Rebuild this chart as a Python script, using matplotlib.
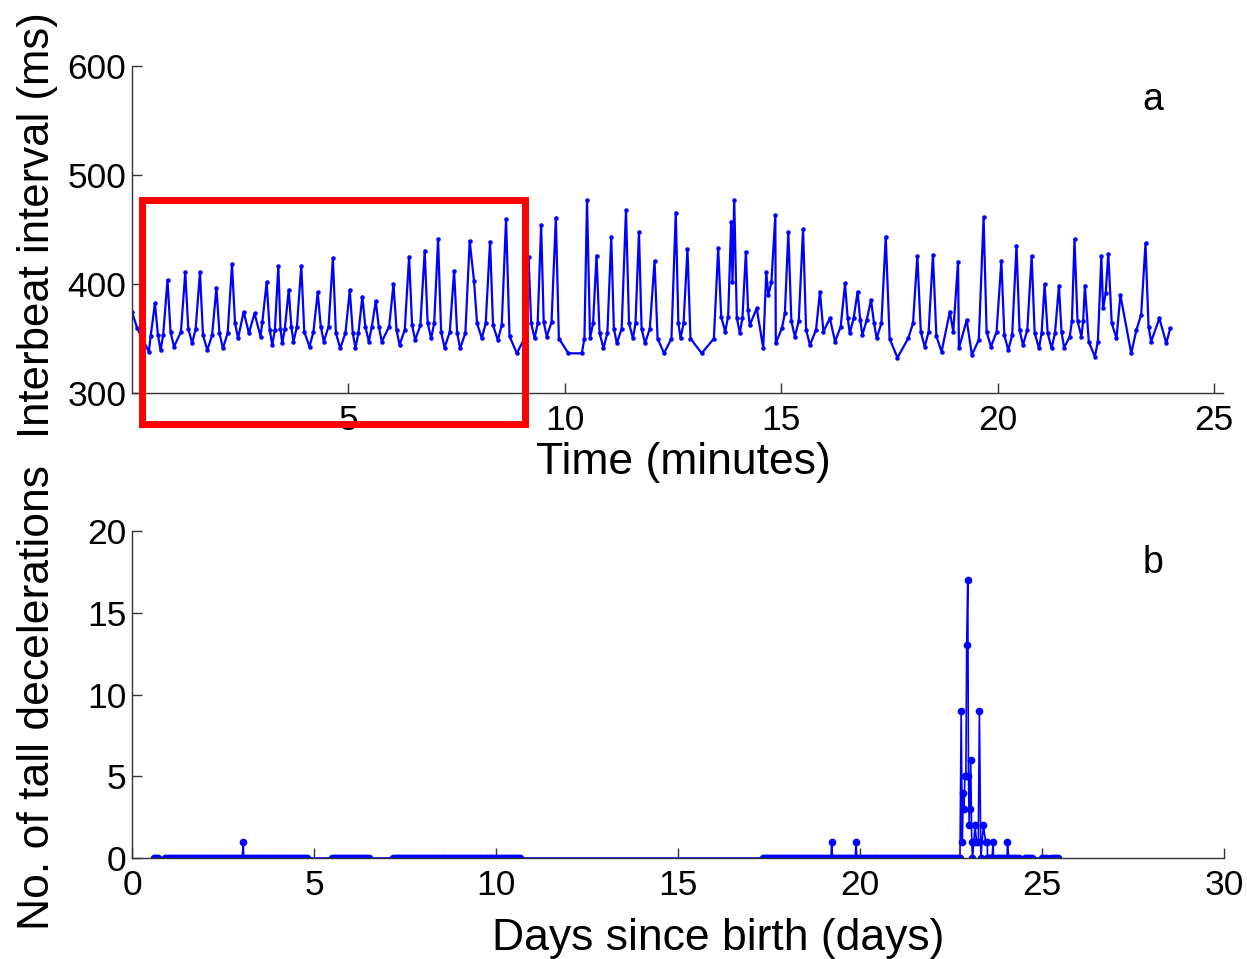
import numpy as np
import matplotlib
matplotlib.use("Agg")
import matplotlib.pyplot as plt
from matplotlib.patches import Rectangle

plt.rcParams['font.family'] = ['Liberation Sans', 'DejaVu Sans']

# ---- panel a: interbeat intervals (peaks / troughs) ----
t_min = [0.00, 0.12, 0.39, 0.53, 0.66, 0.82, 0.97, 1.23, 1.39, 1.57,
         1.74, 1.95, 2.10, 2.31, 2.45, 2.58, 2.70, 2.83, 2.97, 3.11,
         3.24, 3.38, 3.47, 3.62, 3.73, 3.91, 4.10, 4.29, 4.43, 4.64,
         4.81, 5.03, 5.16, 5.32, 5.47, 5.63, 5.77, 6.04, 6.18, 6.40,
         6.54, 6.76, 6.91, 7.07, 7.22, 7.44, 7.58, 7.80, 7.90, 8.08,
         8.27, 8.45, 8.64, 8.89, 9.16, 9.30, 9.45, 9.58, 9.79, 10.08,
         10.39, 10.51, 10.58, 10.73, 10.89, 11.07, 11.20, 11.41, 11.57, 11.71,
         11.85, 12.07, 12.29, 12.56, 12.67, 12.83, 13.16, 13.54, 13.70, 13.84,
         13.87, 13.91, 14.04, 14.18, 14.27, 14.43, 14.58, 14.65, 14.70, 14.77,
         14.86, 14.87, 15.01, 15.16, 15.31, 15.50, 15.66, 15.89, 15.97, 16.12,
         16.24, 16.47, 16.58, 16.76, 16.87, 17.07, 17.20, 17.41, 17.68, 17.93,
         18.14, 18.31, 18.50, 18.70, 18.89, 18.97, 19.08, 19.10, 19.28, 19.40,
         19.67, 19.84, 20.08, 20.24, 20.43, 20.58, 20.78, 20.95, 21.08, 21.24,
         21.41, 21.53, 21.66, 21.77, 21.93, 22.01, 22.24, 22.39, 22.43, 22.49,
         22.55, 22.74, 22.83, 23.08, 23.20, 23.41, 23.54, 23.73, 23.89, 23.98]
ibi_ms = [374.6, 359.3, 337.9, 382.3, 339.4, 403.7, 342.5, 410.7, 345.6, 410.7,
          339.4, 396.6, 341.0, 418.0, 350.2, 374.6, 354.8, 373.1, 351.7, 401.5,
          344.0, 416.5, 345.6, 394.5, 347.1, 416.8, 342.5, 392.4, 347.1, 423.5,
          341.0, 394.2, 341.0, 388.4, 347.1, 384.4, 347.1, 400.0, 344.0, 425.0,
          348.6, 430.3, 350.2, 441.0, 341.6, 411.9, 341.0, 439.4, 402.8, 350.2,
          438.8, 348.6, 459.6, 336.4, 425.0, 350.2, 454.1, 351.7, 460.8, 336.4,
          336.4, 477.0, 350.2, 426.0, 341.0, 443.4, 345.6, 467.9, 350.2, 448.0,
          345.6, 421.1, 336.4, 465.4, 350.2, 432.1, 336.4, 432.7, 356.3, 457.2,
          402.1, 477.0, 354.8, 429.6, 362.4, 377.7, 341.0, 410.7, 389.9, 402.1,
          463.3, 345.6, 359.3, 448.0, 351.7, 450.2, 344.0, 392.9, 356.3, 368.5,
          347.1, 400.6, 354.8, 392.9, 353.2, 385.3, 350.2, 443.4, 332.4, 350.2,
          425.7, 342.5, 426.6, 337.9, 374.6, 356.3, 420.5, 341.0, 367.0, 334.9,
          461.2, 342.5, 421.1, 339.4, 435.1, 344.0, 425.7, 341.0, 399.7, 341.0,
          398.5, 341.6, 351.7, 441.0, 351.7, 398.5, 333.3, 426.0, 377.7, 391.4,
          427.8, 350.2, 389.9, 336.4, 357.8, 437.3, 347.1, 368.5, 345.6, 359.3]

# foot of each peak, where the trace leaves / rejoins the baseline
knee_t = [0.43, 0.60, 0.72, 0.89, 1.13, 1.30, 1.47, 1.64, 1.85, 2.02,
          2.21, 2.38, 3.01, 3.18, 3.30, 3.43, 3.53, 3.68, 3.81, 3.98,
          4.19, 4.36, 4.54, 4.71, 4.93, 5.10, 5.23, 5.39, 5.54, 5.70,
          5.94, 6.11, 6.30, 6.47, 6.66, 6.83, 6.98, 7.14, 7.34, 7.51,
          7.70, 7.97, 8.17, 8.34, 8.54, 8.72, 9.06, 9.22, 9.37, 9.51,
          9.69, 9.86, 10.45, 10.65, 10.80, 10.98, 11.13, 11.31, 11.48, 11.63,
          11.77, 11.96, 12.14, 12.46, 12.62, 12.74, 12.90, 13.44, 13.61, 13.77,
          13.97, 14.10, 14.23, 15.08, 15.23, 15.40, 15.57, 15.80, 16.37, 16.53,
          16.67, 16.82, 16.97, 17.14, 17.31, 17.50, 18.04, 18.22, 18.40, 18.58,
          19.56, 19.74, 19.97, 20.15, 20.33, 20.50, 20.68, 20.85, 21.01, 21.15,
          21.32, 21.47, 21.71, 21.84, 21.97, 22.10, 22.31, 22.63, 23.31, 23.48]
knee_ms = [352, 353, 353, 356, 356, 359, 359, 353, 353, 355,
           355, 364, 365, 358, 358, 359, 359, 361, 361, 356,
           356, 361, 361, 355, 355, 355, 355, 361, 361, 361,
           361, 358, 358, 362, 362, 364, 364, 356, 356, 355,
           355, 364, 364, 362, 362, 352, 350, 364, 364, 365,
           365, 350, 350, 364, 355, 355, 359, 359, 364, 364,
           359, 359, 350, 350, 364, 364, 350, 350, 370, 370,
           369, 369, 376, 373, 366, 366, 358, 358, 361, 369,
           369, 367, 367, 364, 364, 350, 364, 356, 356, 352,
           349, 356, 356, 353, 353, 358, 358, 355, 355, 355,
           355, 356, 366, 366, 366, 347, 347, 364, 372, 361]

# highlighted window (minutes, ms)
box_t = [0.23, 9.07]
box_ms = [271.8, 477.3]

# ---- panel b: tall decelerations per hour ----
# recording windows where every hourly count was zero (days)
rec_windows = [(0.60, 0.73), (0.90, 4.85), (5.50, 6.54), (7.17, 10.70),
               (17.33, 22.75), (23.50, 24.40), (24.53, 24.76), (24.99, 25.13),
               (25.22, 25.45)]
sample_step = 1.0 / 24.0

event_days = [3.06, 19.22, 19.89, 22.78, 22.81, 22.84, 22.86, 22.88, 22.91, 22.93,
              22.96, 22.98, 23.00, 23.01, 23.04, 23.07, 23.09, 23.13, 23.16, 23.20,
              23.25, 23.28, 23.32, 23.39, 23.45, 23.50, 23.55, 23.66, 23.80, 24.05]
event_counts = [1, 1, 1, 9, 1, 4, 3, 5, 5, 13,
                17, 5, 2, 3, 6, 1, 0, 1, 2, 1,
                1, 9, 0, 2, 1, 1, 0, 1, 0, 1]

# merge trace vertices with the peak feet
t_all = np.concatenate([t_min, knee_t])
v_all = np.concatenate([ibi_ms, knee_ms])
o = np.argsort(t_all, kind='stable')
t_all, v_all = t_all[o], v_all[o]

days = [event_days]
counts = [event_counts]
for a, b in rec_windows:
    d = np.arange(a, b + 1e-9, sample_step)
    days.append(d)
    counts.append(np.zeros_like(d))
days = np.concatenate(days)
counts = np.concatenate(counts)
order = np.argsort(days, kind='stable')
days, counts = days[order], counts[order]

# ---- figure ----
fig = plt.figure(figsize=(12.47, 9.59), dpi=100)
ax1 = fig.add_axes([132/1247, 1-393/959, (1223-132)/1247, (393-66)/959])
ax2 = fig.add_axes([132/1247, 1-858/959, (1224-132)/1247, (858-531)/959])

spine_col = '#333333'
for ax in (ax1, ax2):
    for s in ('top', 'right'):
        ax.spines[s].set_visible(False)
    for s in ('left', 'bottom'):
        ax.spines[s].set_color(spine_col)
        ax.spines[s].set_linewidth(1.0)
    ax.tick_params(direction='in', length=7, width=1, color=spine_col,
                   labelsize=25.5)
    ax.tick_params(axis='x', pad=8)
    ax.tick_params(axis='y', pad=4)

ax1.plot(t_all, v_all, '-', color='blue', lw=1.6, marker='.', ms=4.5)
ax1.set_xlim(0, 25.2)
ax1.set_ylim(300, 600)
ax1.set_xticks([5, 10, 15, 20, 25])
ax1.set_yticks([300, 400, 500, 600])
ax1.set_xlabel('Time (minutes)', fontsize=32)
ax1.set_ylabel('Interbeat interval (ms)', fontsize=31.5)
ax1.xaxis.set_label_coords(0.505, -0.15)
ax1.yaxis.set_label_coords(-0.068, 0.514)
ax1.text(0.936, 0.896, 'a', transform=ax1.transAxes, fontsize=27,
         ha='center', va='center')
rect = Rectangle((box_t[0], box_ms[0]), box_t[1] - box_t[0], box_ms[1] - box_ms[0],
                 fill=False, edgecolor='red', lw=5, clip_on=False, zorder=5)
ax1.add_patch(rect)

ax2.plot(days, counts, '-', color='blue', lw=1.2, marker='.', ms=9)
ax2.set_xlim(0, 30)
ax2.set_ylim(0, 20)
ax2.set_xticks([0, 5, 10, 15, 20, 25, 30])
ax2.set_yticks([0, 5, 10, 15, 20])
ax2.set_xlabel('Days since birth (days)', fontsize=32)
ax2.set_ylabel('No. of tall decelerations', fontsize=32)
ax2.xaxis.set_label_coords(0.537, -0.185)
ax2.yaxis.set_label_coords(-0.068, 0.492)
ax2.text(0.935, 0.902, 'b', transform=ax2.transAxes, fontsize=27,
         ha='center', va='center')

fig.savefig('out.png', dpi=100)
